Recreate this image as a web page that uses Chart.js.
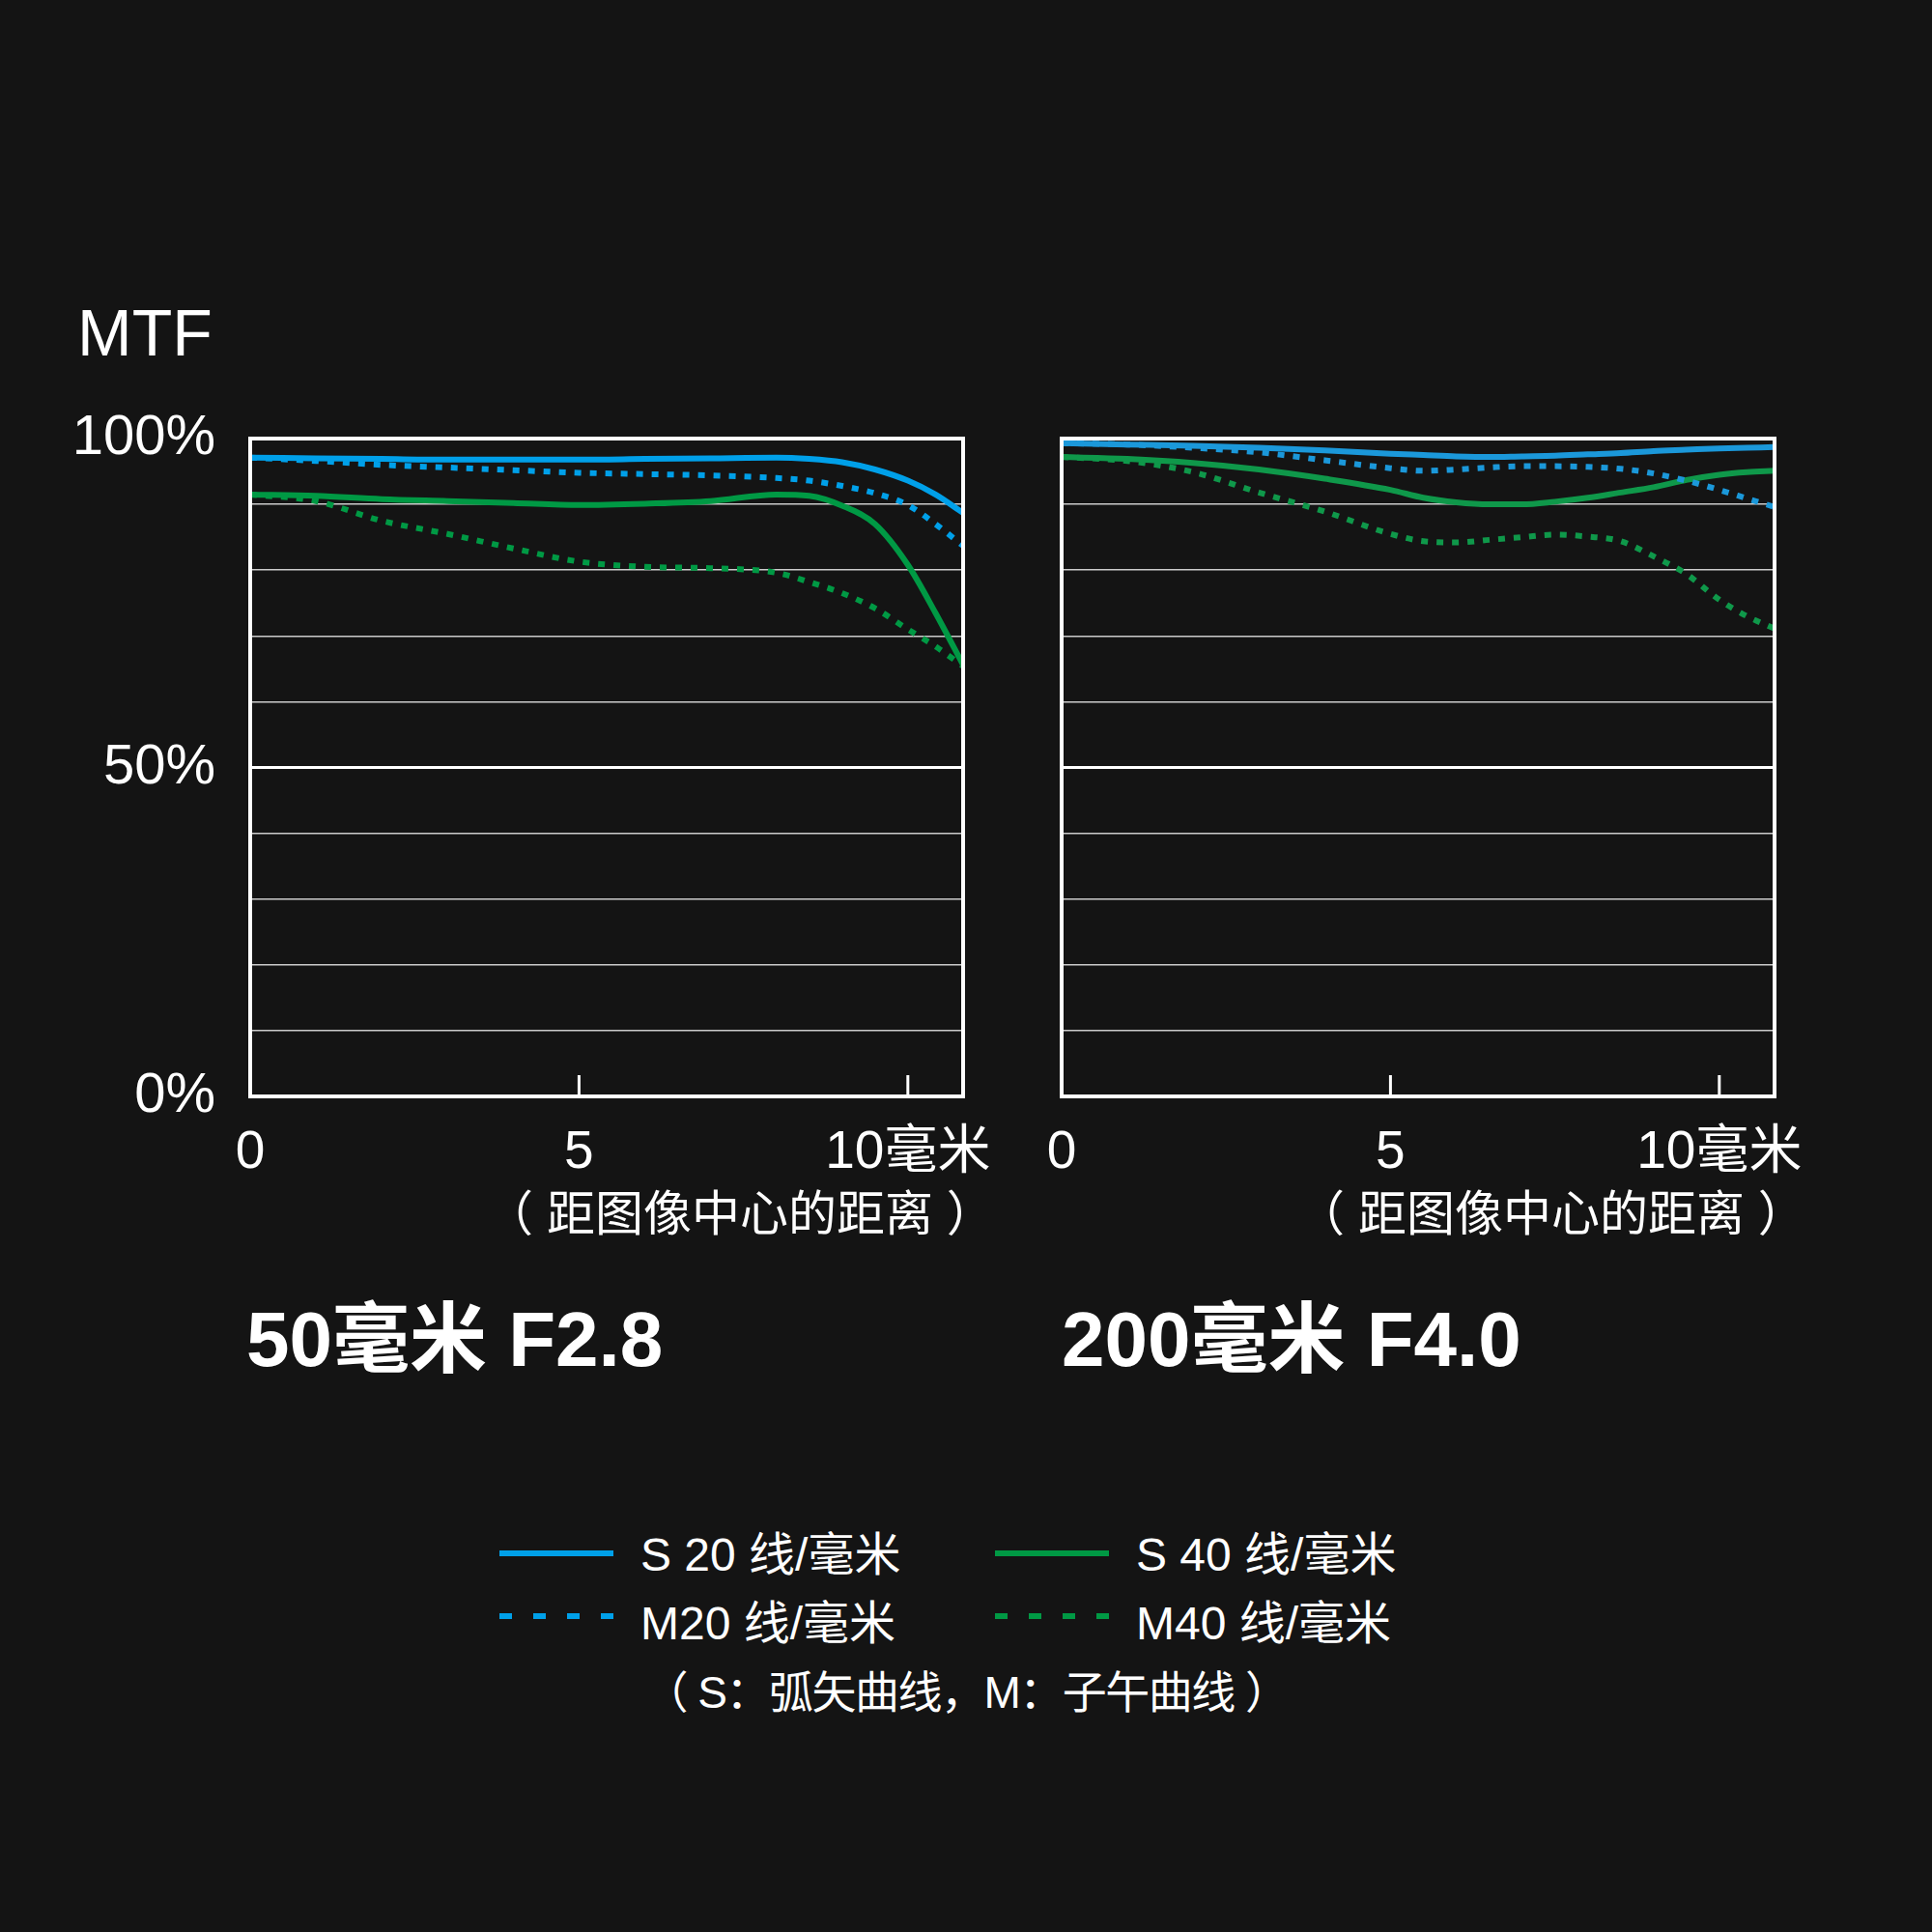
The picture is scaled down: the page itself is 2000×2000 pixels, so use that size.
<!DOCTYPE html>
<html>
<head>
<meta charset="utf-8">
<script src="https://cdn.jsdelivr.net/npm/chart.js@4.4.0/dist/chart.umd.min.js"></script>
<style>
	body { margin: 0; background: #141414; }
	#page {
		position: relative; width: 2000px; height: 2000px; overflow: hidden;
		background: #141414; color: #fff;
		font-family: "Liberation Sans", "Noto Sans CJK SC", sans-serif;
	}
	.txt { position: absolute; line-height: 1; white-space: nowrap; }
	.title { font-size: 80px; font-weight: bold; top: 1347px; }
	.axis-title { font-size: 50px; top: 1232px; }
	canvas { position: absolute; }
	.swatch { position: absolute; width: 118px; height: 6px; }
	.leg { font-size: 48px; }
</style>
</head>
<body>
<div id="page">
	<div class="txt" style="left:80px;top:310px;font-size:68px">MTF</div>
	<canvas id="chartLeft" width="1040" height="935" style="left:0;top:400px"></canvas>
	<canvas id="chartRight" width="820" height="935" style="left:1060px;top:400px"></canvas>
	<div class="txt axis-title" id="xTitleLeft" style="left:502px"></div>
	<div class="txt axis-title" id="xTitleRight" style="left:1342px"></div>
	<div class="txt title" style="left:255px">50毫米 F2.8</div>
	<div class="txt title" style="left:1099px">200毫米 F4.0</div>
	<div id="legend"></div>
	<div class="txt" style="left:1000px;top:1729px;font-size:46px;letter-spacing:-1.5px;transform:translateX(-50%)">（ S：弧矢曲线，M：子午曲线 ）</div>
</div>
<script>
// ===== DATA =====
// distance from image centre (mm)
const xLeft = [0, 1, 2, 3, 4, 5, 6, 7, 8, 8.5, 9, 9.5, 10, 10.42, 10.84];
const s20Left = [97.1, 97.0, 96.9, 96.8, 96.8, 96.8, 96.9, 97.0, 97.1, 96.9, 96.4, 95.3, 93.6, 91.5, 88.7];
const m20Left = [97.1, 96.6, 96.0, 95.6, 95.2, 94.8, 94.6, 94.4, 94.0, 93.6, 92.8, 91.7, 89.9, 87.0, 83.7];
const s40Left = [91.5, 91.3, 90.8, 90.5, 90.2, 89.9, 90.1, 90.5, 91.5, 91.3, 89.8, 87.0, 80.8, 73.5, 65.6];
const m40Left = [91.5, 90.5, 87.5, 85.5, 83.3, 81.3, 80.5, 80.3, 79.6, 78.2, 76.5, 74.2, 71.0, 68.4, 65.4];

const xRight = [0, 1, 2, 3, 4, 5, 5.5, 6, 6.5, 7, 7.5, 8, 8.5, 9, 9.5, 10, 10.42, 10.84];
const s20Right = [99.3, 99.1, 98.9, 98.6, 98.2, 97.7, 97.5, 97.3, 97.2, 97.3, 97.4, 97.6, 97.8, 98.1, 98.3, 98.5, 98.6, 98.7];
const m20Right = [99.3, 99.1, 98.6, 97.9, 96.7, 95.5, 95.1, 95.3, 95.6, 95.8, 95.8, 95.7, 95.4, 94.7, 93.6, 92.2, 90.9, 89.6];
const s40Right = [97.2, 96.9, 96.3, 95.3, 93.9, 92.2, 91.0, 90.3, 90.0, 90.0, 90.4, 91.0, 91.8, 92.6, 93.7, 94.5, 94.9, 95.1];
const m40Right = [97.2, 96.6, 94.9, 91.8, 88.9, 85.5, 84.4, 84.2, 84.6, 85.0, 85.4, 85.1, 84.4, 82.1, 79.4, 75.5, 73.0, 71.1];

const seriesNames = ['S 20 线/毫米', 'M20 线/毫米', 'S 40 线/毫米', 'M40 线/毫米'];
const xMax = 10.84;
const xTicks = [0, 5, 10];
const xTickLabels = ['0', '5', '10毫米'];
const yTicks = [0, 50, 100];
const yTickLabels = ['0%', '50%', '100%'];
const xTitle = '（ 距图像中心的距离 ）';

const BLUE = '#00A0E9';
const GREEN = '#009944';
const FONT = '"Liberation Sans", "Noto Sans CJK SC", sans-serif';

document.getElementById('xTitleLeft').textContent = xTitle;
document.getElementById('xTitleRight').textContent = xTitle;

// ===== FRAME + INNER TICKS =====
const framePlugin = {
	id: 'frame',
	afterDatasetsDraw(chart) {
		const { ctx, chartArea: a, scales } = chart;
		ctx.save();
		ctx.strokeStyle = '#ffffff';
		ctx.lineWidth = 3;
		xTicks.filter(v => v > 0).forEach(v => {
			const px = scales.x.getPixelForValue(v);
			ctx.beginPath();
			ctx.moveTo(px, a.bottom);
			ctx.lineTo(px, a.bottom - 22);
			ctx.stroke();
		});
		ctx.lineWidth = 4;
		ctx.strokeRect(a.left, a.top, a.right - a.left, a.bottom - a.top);
		ctx.restore();
	}
};

function points(xs, ys) {
	return xs.map((x, i) => ({ x: x, y: ys[i] }));
}

// keep chart area fixed: drop the label overflow padding chart.js adds
function noPad(s) {
	s.paddingLeft = 0;
	s.paddingRight = 0;
	s.paddingTop = 0;
	s.paddingBottom = 0;
}

function makeChart(id, xs, values, colors, showY, yWidth) {
	const dashed = [false, true, false, true];
	const datasets = values.map((ys, i) => ({
		label: seriesNames[i],
		data: points(xs, ys),
		borderColor: colors[i],
		borderWidth: 6,
		borderDash: dashed[i] ? [7, 9] : [],
		borderCapStyle: 'butt',
		pointRadius: 0,
		cubicInterpolationMode: 'monotone',
		fill: false
	}));

	return new Chart(document.getElementById(id), {
		type: 'line',
		data: { datasets: datasets },
		options: {
			responsive: false,
			animation: false,
			devicePixelRatio: 1,
			layout: { padding: { left: 0, right: 43, top: 54, bottom: 0 } },
			plugins: { legend: { display: false }, tooltip: { enabled: false } },
			scales: {
				x: {
					type: 'linear',
					min: 0,
					max: xMax,
					afterBuildTicks: s => { s.ticks = xTicks.map(v => ({ value: v })); },
					afterFit: s => { s.height = 200; noPad(s); },
					grid: { display: false, drawTicks: false },
					border: { display: false },
					ticks: {
						autoSkip: false,
						maxRotation: 0,
						padding: 26,
						color: '#ffffff',
						font: { family: FONT, size: 55 },
						callback: v => xTickLabels[xTicks.indexOf(v)]
					}
				},
				y: {
					min: 0,
					max: 100,
					afterFit: s => { s.width = yWidth; noPad(s); },
					border: { display: false },
					grid: {
						drawTicks: false,
						color: c => c.tick.value === 50 ? '#ffffff' : 'rgba(255,255,255,0.78)',
						lineWidth: c => c.tick.value === 50 ? 3 : 1.5
					},
					ticks: {
						display: showY,
						autoSkip: false,
						stepSize: 10,
						padding: 36,
						color: '#ffffff',
						font: { family: FONT, size: 58 },
						callback: v => {
							const i = yTicks.indexOf(v);
							return i >= 0 ? yTickLabels[i] : '';
						}
					}
				}
			}
		},
		plugins: [framePlugin]
	});
}

// solid series first so they sit on top of the dotted ones
makeChart('chartLeft', xLeft,
	[s20Left, m20Left, s40Left, m40Left],
	[BLUE, BLUE, GREEN, GREEN], true, 259);
makeChart('chartRight', xRight,
	[s20Right, m20Right, s40Right, m40Right],
	['#1B98DA', '#1B98DA', '#0F984A', '#0F984A'], false, 39);

// ===== LEGEND =====
const legend = document.getElementById('legend');
const legendCols = [517, 1030];
const legendRows = [1605, 1670];
const legendTextTop = [1586, 1657];
const legendColors = [BLUE, BLUE, GREEN, GREEN];
seriesNames.forEach((name, i) => {
	const col = legendCols[Math.floor(i / 2)];
	const sw = document.createElement('div');
	sw.className = 'swatch';
	sw.style.left = col + 'px';
	sw.style.top = legendRows[i % 2] + 'px';
	sw.style.background = i % 2 === 0
		? legendColors[i]
		: 'repeating-linear-gradient(90deg, ' + legendColors[i] + ' 0 13px, transparent 13px 35px)';
	legend.appendChild(sw);

	const t = document.createElement('div');
	t.className = 'txt leg';
	t.style.left = (col + 146) + 'px';
	t.style.top = legendTextTop[i % 2] + 'px';
	t.textContent = name;
	legend.appendChild(t);
});
</script>
</body>
</html>
